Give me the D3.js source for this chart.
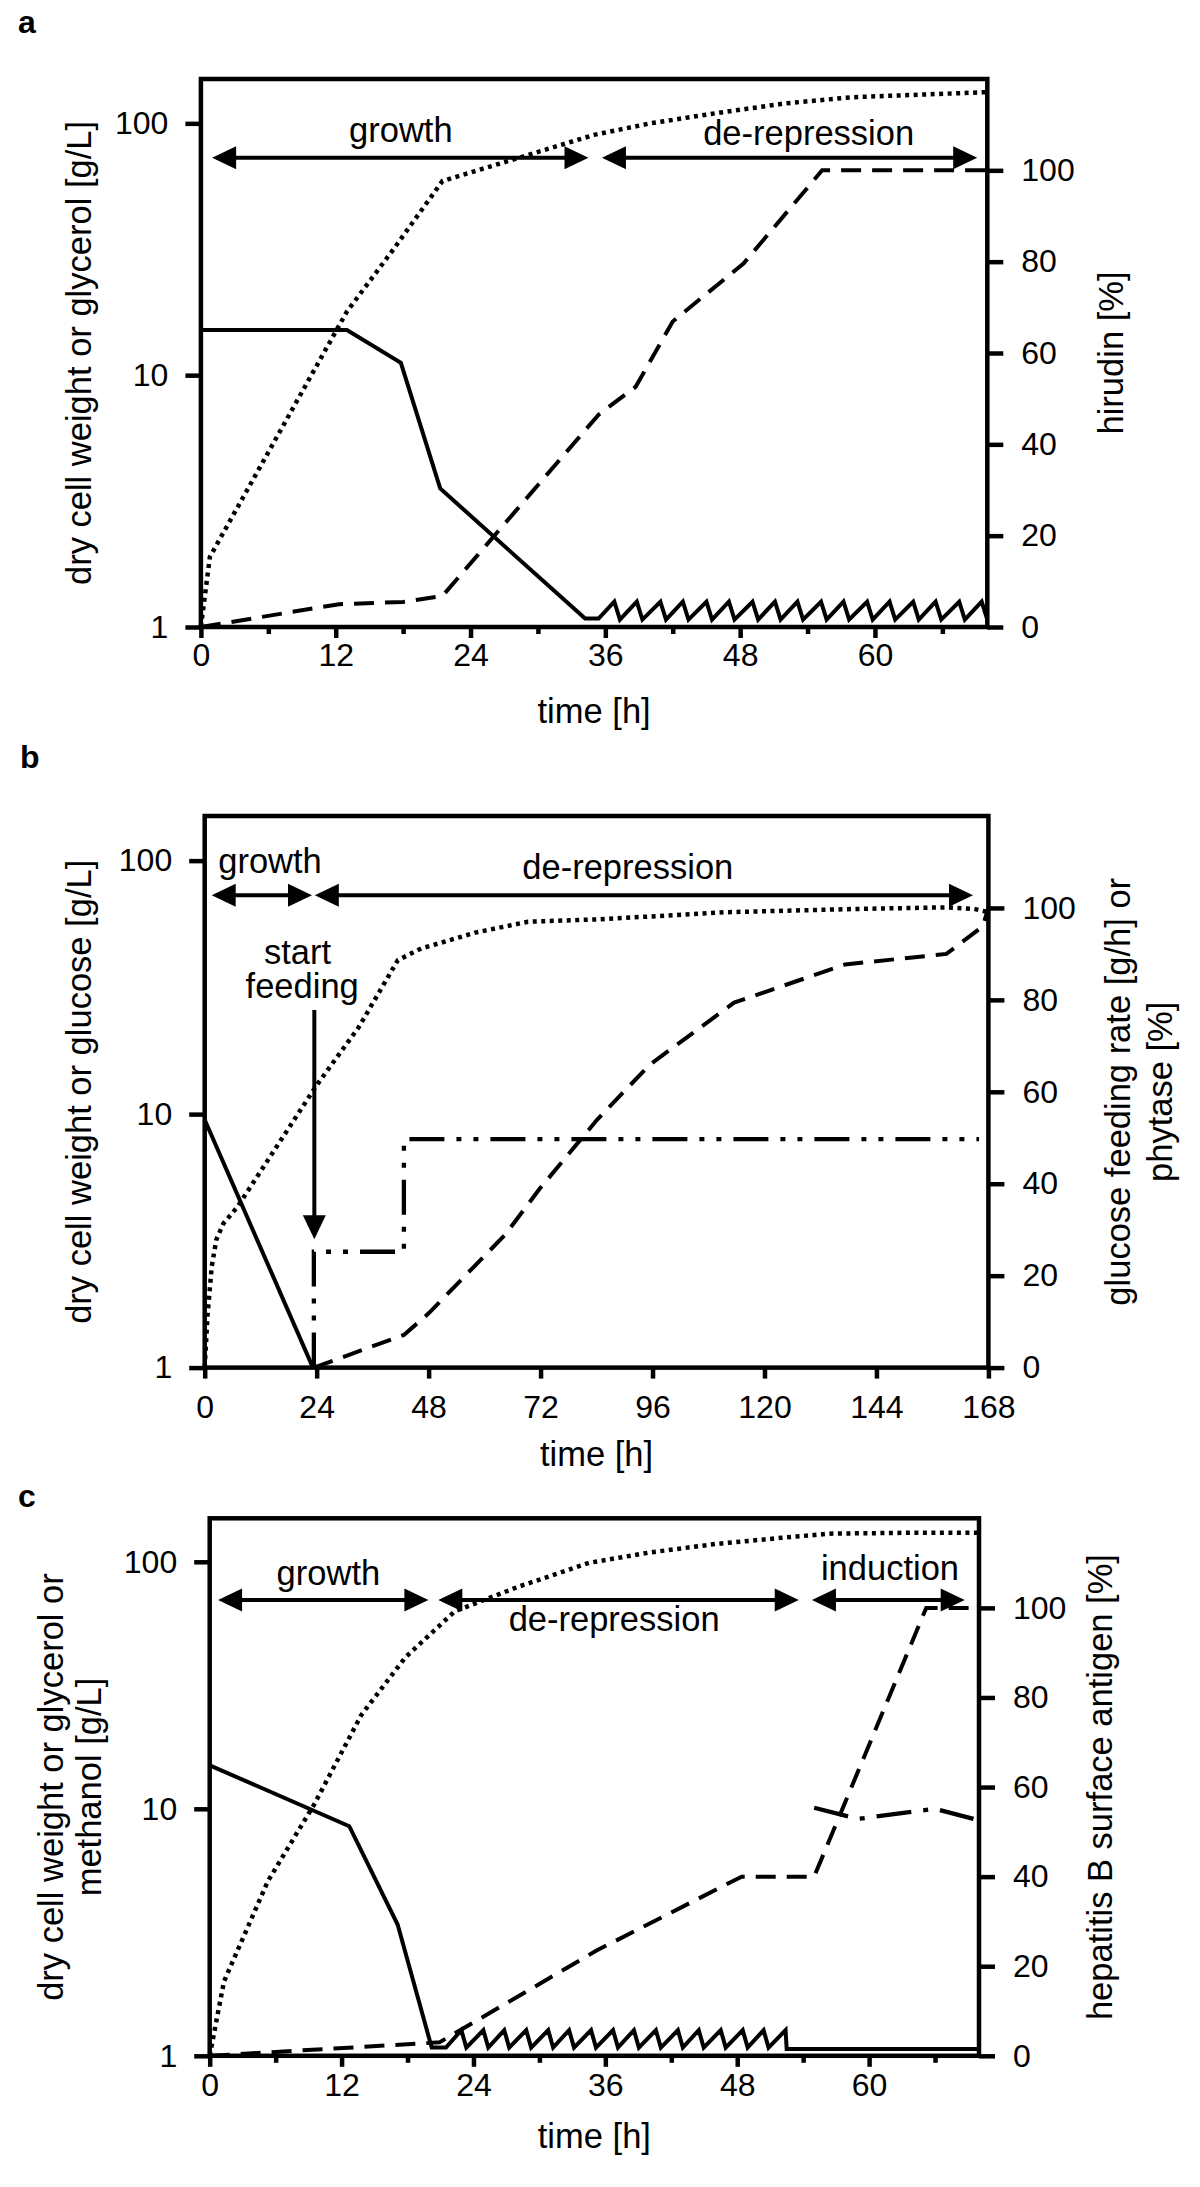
<!DOCTYPE html>
<html><head><meta charset="utf-8">
<script src="https://cdn.jsdelivr.net/npm/d3@7"></script>
<style>
body{margin:0;background:#fff}
svg{display:block}
text{font-family:"Liberation Sans",Arial,Helvetica,sans-serif;fill:#000}
</style>
</head><body>
<svg id="chart" width="1200" height="2187"></svg>
<script>
// ---------------- DATA ----------------
const leftTicks = [1, 10, 100];
const rightTicks = [0, 20, 40, 60, 80, 100];
const timeTicksAC = [0, 12, 24, 36, 48, 60];
const timeMinorAC = [6, 18, 30, 42, 54, 66];
const timeTicksB = [0, 24, 48, 72, 96, 120, 144, 168];

// Panel a: [time h, value]
const aDryCellWeight = [[0,1],[0.8,1.9],[13,17.9],[17,31],[21.5,59],[35,90],[40,100],[46,110],[52,120],[58,127],[64,130],[70,133]];
const aGlycerol = [[0,15.1],[13,15.1],[17.8,11.2],[21.3,3.55],[34.2,1.08],[35.4,1.08],
  [36.8,1.26],[37.3,1.07],[38.8,1.26],[39.3,1.07],[40.9,1.26],[41.4,1.07],[42.9,1.26],[43.4,1.07],
  [45.0,1.26],[45.5,1.07],[47.0,1.26],[47.5,1.07],[49.1,1.26],[49.6,1.07],[51.1,1.26],[51.6,1.07],
  [53.1,1.26],[53.6,1.07],[55.2,1.26],[55.7,1.07],[57.2,1.26],[57.7,1.07],[59.3,1.26],[59.8,1.07],
  [61.3,1.26],[61.8,1.07],[63.4,1.26],[63.9,1.07],[65.4,1.26],[65.9,1.07],[67.5,1.26],[68.0,1.07],
  [69.5,1.26],[70.0,1.07]];
const aHirudin = [[0,0],[12.3,5.0],[18,5.5],[21.5,6.8],[35.4,46.5],[38.7,52.6],[42,66.9],[48.3,79.6],[55.3,100],[70,100]];
const aArrows = [{t0:1.0, t1:34.5, v:73}, {t0:35.7, t1:69.1, v:73}];
const aLabels = [{text:"growth", t:17.8, v:84}, {text:"de-repression", t:54.1, v:82}];

// Panel b
const bDryCellWeight = [[0,1],[0.6,1.6],[1.5,2.5],[2.5,3.2],[4,3.7],[7,4.3],[24,13],[33,22],[41.4,40.5],[46.4,45],[58,52],[69.3,57.4],[84.7,58.7],[111.8,62.6],[140,64.5],[158.6,65.4],[165,64.5],[168,62.6]];
const bGlucose = [[0,9.5],[23.2,1]];
const bFeedRate = [[23.4,0],[23.4,25.2],[42.7,25.2],[42.7,49.7],[166,49.7]];
const bPhytase = [[23.4,0],[42.7,7.1],[48,11.8],[64.4,28.9],[71.8,38.9],[84.1,53.9],[95.4,65.9],[113.5,79.4],[137.3,87.7],[159,90],[166.8,96],[168,100]];
const bArrows = [{t0:1.5, t1:23.0, v:73}, {t0:23.6, t1:164.7, v:73}];
const bLabels = [{text:"growth", t:14, v:89}, {text:"de-repression", t:90.7, v:84.6}, {text:"start", t:19.9, v:39}, {text:"feeding", t:20.9, v:28.7}];
const bStartFeeding = {t:23.5, from:77.8, to:27.9};

// Panel c
const cDryCellWeight = [[0,1],[1.3,2.0],[5.3,5.1],[9.5,10.4],[13.8,24],[17.8,41],[22.3,63],[28,79],[34.5,99],[40,109],[46,118],[52,125],[56.4,130],[63,131],[70,131]];
const cGlycerol = [[0,15],[12.7,8.5],[17.1,3.4],[20.2,1.08],[21.5,1.08],
  [22.9,1.27],[23.35,1.08],[24.9,1.27],[25.35,1.08],[26.8,1.27],[27.25,1.08],[28.8,1.27],[29.25,1.08],
  [30.8,1.27],[31.25,1.08],[32.7,1.27],[33.15,1.08],[34.7,1.27],[35.15,1.08],[36.7,1.27],[37.15,1.08],
  [38.6,1.27],[39.05,1.08],[40.6,1.27],[41.05,1.08],[42.6,1.27],[43.05,1.08],[44.5,1.27],[44.95,1.08],
  [46.5,1.27],[46.95,1.08],[48.5,1.27],[48.95,1.08],[50.4,1.27],[50.85,1.08],[52.4,1.27],[52.5,1.065],[70,1.065]];
const cHBsAg = [[0,0],[20.9,3.0],[35.2,23.5],[48.4,40],[55,40],[65.2,100],[70,100]];
const cMethanol = [[55,10.1],[59,9.1],[66,10.0],[69.5,9.1]];
const cArrows = [{t0:0.76, t1:19.9, v:70}, {t0:20.8, t1:53.6, v:70}, {t0:54.8, t1:68.7, v:70}];
const cLabels = [{text:"growth", t:10.8, v:80.9}, {text:"de-repression", t:36.8, v:52.5}, {text:"induction", t:61.9, v:84.4}];

// ---------------- DRAW ----------------
const svg = d3.select("#chart");
const FS_TICK = 32, FS_LAB = 34.5;

function styleAxis(a) {
  a.attr("font-size", null).attr("font-family", null);
  a.select(".domain").remove();
  a.selectAll(".tick line").attr("stroke", "#000").attr("stroke-width", 4.5);
  a.selectAll(".tick text").attr("font-size", FS_TICK).attr("fill", "#000");
}

function drawPanel(p) {
  const g = svg.append("g");
  const x = d3.scaleLinear().domain(p.xDomain).range([p.left, p.right]);
  const yL = d3.scaleLog().domain([1, 150]).range([p.bottom, p.top]);
  const yR = d3.scaleLinear().domain([0, 120]).range([p.bottom, p.top]);

  // axes
  const ax = g.append("g").attr("transform", `translate(0,${p.bottom})`)
    .call(d3.axisBottom(x).tickValues(p.xTicks).tickSize(11).tickPadding(p.xPad).tickFormat(d3.format("d")));
  styleAxis(ax);
  if (p.xMinor) {
    const am = g.append("g").attr("transform", `translate(0,${p.bottom})`)
      .call(d3.axisBottom(x).tickValues(p.xMinor).tickSize(7).tickFormat(""));
    styleAxis(am);
  }
  const al = g.append("g").attr("transform", `translate(${p.left},0)`)
    .call(d3.axisLeft(yL).tickValues(leftTicks).tickSize(15.5).tickPadding(17).tickFormat(d3.format("d")));
  styleAxis(al);
  const ar = g.append("g").attr("transform", `translate(${p.right},0)`)
    .call(d3.axisRight(yR).tickValues(rightTicks).tickSize(16).tickPadding(18).tickFormat(d3.format("d")));
  styleAxis(ar);

  // frame
  g.append("rect").attr("x", p.left).attr("y", p.top)
    .attr("width", p.right - p.left).attr("height", p.bottom - p.top)
    .attr("fill", "none").attr("stroke", "#000").attr("stroke-width", 4.5);

  // series
  const lineL = d3.line().x(d => x(d[0])).y(d => yL(d[1]));
  const lineR = d3.line().x(d => x(d[0])).y(d => yR(d[1]));
  p.series.forEach(s => {
    g.append("path").datum(s.data)
      .attr("d", s.axis === "L" ? lineL : lineR)
      .attr("fill", "none").attr("stroke", "#000")
      .attr("stroke-width", s.w || 4)
      .attr("stroke-linejoin", "miter")
      .attr("stroke-dasharray", s.dash || null);
  });

  // phase arrows
  const HL = 24, HW = 11.5;
  p.arrows.forEach(a => {
    const x0 = x(a.t0), x1 = x(a.t1), y = yL(a.v);
    g.append("line").attr("x1", x0 + HL - 2).attr("x2", x1 - HL + 2).attr("y1", y).attr("y2", y)
      .attr("stroke", "#000").attr("stroke-width", 4);
    g.append("path").attr("d", `M${x0},${y}L${x0 + HL},${y - HW}L${x0 + HL},${y + HW}Z`).attr("fill", "#000");
    g.append("path").attr("d", `M${x1},${y}L${x1 - HL},${y - HW}L${x1 - HL},${y + HW}Z`).attr("fill", "#000");
  });
  p.labels.forEach(l => {
    g.append("text").attr("x", x(l.t)).attr("y", yL(l.v)).attr("text-anchor", "middle")
      .attr("font-size", FS_LAB).text(l.text);
  });
  if (p.vArrow) {
    const va = p.vArrow, xx = x(va.t), y0 = yR(va.from), y1 = yR(va.to);
    g.append("line").attr("x1", xx).attr("x2", xx).attr("y1", y0).attr("y2", y1 - HL + 2)
      .attr("stroke", "#000").attr("stroke-width", 4);
    g.append("path").attr("d", `M${xx},${y1}L${xx - HW},${y1 - HL}L${xx + HW},${y1 - HL}Z`).attr("fill", "#000");
  }

  // titles
  const midX = (p.left + p.right) / 2, midY = (p.top + p.bottom) / 2;
  g.append("text").attr("x", midX).attr("y", p.xTitleY).attr("text-anchor", "middle")
    .attr("font-size", FS_LAB).text("time [h]");
  p.leftTitle.forEach((t, i) => {
    g.append("text").attr("transform", `translate(${p.leftTitleX[i]},${midY}) rotate(-90)`)
      .attr("text-anchor", "middle").attr("dy", "0.36em").attr("font-size", FS_LAB).text(t);
  });
  p.rightTitle.forEach((t, i) => {
    g.append("text").attr("transform", `translate(${p.rightTitleX[i]},${midY}) rotate(-90)`)
      .attr("text-anchor", "middle").attr("dy", "0.36em").attr("font-size", FS_LAB).text(t);
  });
  g.append("text").attr("x", p.tag[1]).attr("y", p.tag[2]).attr("font-size", 32)
    .attr("font-weight", "bold").text(p.tag[0]);
}

drawPanel({
  tag: ["a", 18, 33],
  left: 200.9, right: 987.3, top: 79, bottom: 627,
  xDomain: [0, 70], xTicks: timeTicksAC, xMinor: timeMinorAC, xPad: 5.5, xTitleY: 723,
  leftTitle: ["dry cell weight or glycerol [g/L]"], leftTitleX: [79],
  rightTitle: ["hirudin [%]"], rightTitleX: [1111],
  series: [
    {data: aDryCellWeight, axis: "L", dash: "4,4.5", w: 4.5},
    {data: aGlycerol, axis: "L", w: 4},
    {data: aHirudin, axis: "R", dash: "20,11", w: 4}
  ],
  arrows: aArrows, labels: aLabels
});

drawPanel({
  tag: ["b", 20, 768],
  left: 204.7, right: 988.4, top: 816, bottom: 1367.6,
  xDomain: [0, 168], xTicks: timeTicksB, xMinor: null, xPad: 17, xTitleY: 1466,
  leftTitle: ["dry cell weight or glucose [g/L]"], leftTitleX: [79],
  rightTitle: ["glucose feeding rate [g/h] or", "phytase [%]"], rightTitleX: [1118, 1160],
  series: [
    {data: bDryCellWeight, axis: "L", dash: "4,4.5", w: 4.5},
    {data: bGlucose, axis: "L", w: 4},
    {data: bFeedRate, axis: "R", dash: "35,12,5,12,5,12", w: 4.3},
    {data: bPhytase, axis: "R", dash: "20,11", w: 4}
  ],
  arrows: bArrows, labels: bLabels, vArrow: bStartFeeding
});

drawPanel({
  tag: ["c", 18, 1507],
  left: 209.7, right: 979, top: 1518.3, bottom: 2055.8,
  xDomain: [0, 70], xTicks: timeTicksAC, xMinor: timeMinorAC, xPad: 6, xTitleY: 2148,
  leftTitle: ["dry cell weight or glycerol or", "methanol [g/L]"], leftTitleX: [51, 89],
  rightTitle: ["hepatitis B surface antigen [%]"], rightTitleX: [1100],
  series: [
    {data: cDryCellWeight, axis: "L", dash: "4,4.5", w: 4.5},
    {data: cGlycerol, axis: "L", w: 4},
    {data: cHBsAg, axis: "R", dash: "20,11", w: 4},
    {data: cMethanol, axis: "L", dash: "35,12,5,12", w: 4.3}
  ],
  arrows: cArrows, labels: cLabels
});
</script>
</body></html>
